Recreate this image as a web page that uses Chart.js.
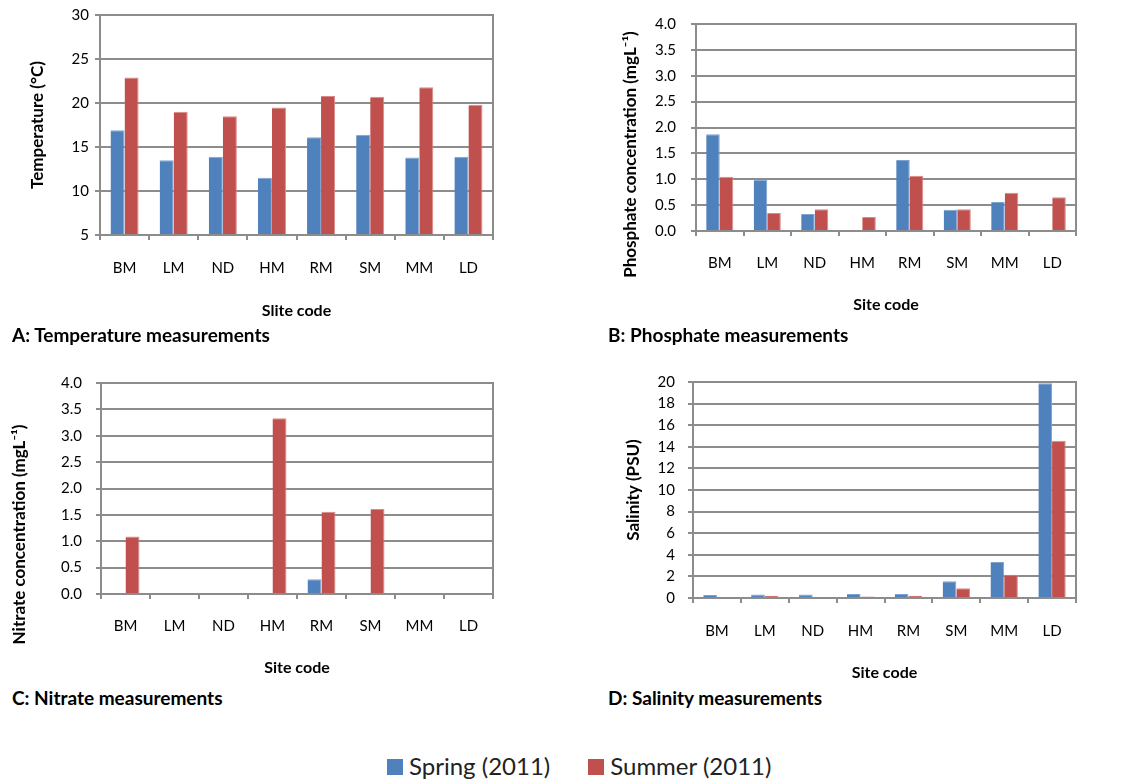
<!DOCTYPE html>
<html>
<head>
<meta charset="utf-8">
<script src="https://cdn.jsdelivr.net/npm/chart.js@4.4.1/dist/chart.umd.min.js"></script>
<style>
  body { margin: 0; background: #fff; font-family: Lato, "Open Sans", sans-serif; }
  .box { position: absolute; }
  .cap { position: absolute; font-weight: bold; font-size: 19px; color: #000; line-height: 22px; }
  #legend { position: absolute; top: 752px; left: 387px; font-size: 24px; line-height: 28px; color: #222; white-space: nowrap; }
  #legend span.sq { display: inline-block; width: 16px; height: 16px; margin-right: 6px; vertical-align: 0px; }
</style>
</head>
<body>
<div class="box" style="left:0px;top:0px;width:510px;height:325px"><canvas id="tempChart"></canvas></div>
<div class="box" style="left:560px;top:0px;width:530px;height:325px"><canvas id="phosChart"></canvas></div>
<div class="box" style="left:0px;top:360px;width:510px;height:325px"><canvas id="nitrChart"></canvas></div>
<div class="box" style="left:560px;top:360px;width:530px;height:325px"><canvas id="salChart"></canvas></div>

<div class="cap" style="left:12px;top:324px">A: Temperature measurements</div>
<div class="cap" style="left:608px;top:324px">B: Phosphate measurements</div>
<div class="cap" style="left:12px;top:687px">C: Nitrate measurements</div>
<div class="cap" style="left:608px;top:687px">D: Salinity measurements</div>

<div id="legend"><span class="sq" style="background:#4F81BD"></span>Spring (2011)<span style="display:inline-block;width:38px"></span><span class="sq" style="background:#C0504D"></span>Summer (2011)</div>

<script>
var sites = ['BM', 'LM', 'ND', 'HM', 'RM', 'SM', 'MM', 'LD'];
var seasons = ['Spring (2011)', 'Summer (2011)'];

var tempSpring = [16.9, 13.5, 13.9, 11.5, 16.1, 16.4, 13.8, 13.9];
var tempSummer = [22.9, 19.0, 18.5, 19.5, 20.8, 20.7, 21.8, 19.8];

var phosSpring = [1.87, 0.99, 0.33, 0, 1.37, 0.41, 0.56, 0];
var phosSummer = [1.05, 0.35, 0.42, 0.27, 1.07, 0.42, 0.74, 0.65];

var nitrSpring = [0, 0, 0, 0, 0.28, 0, 0, 0];
var nitrSummer = [1.09, 0, 0, 3.33, 1.56, 1.61, 0, 0];

var salSpring = [0.27, 0.33, 0.33, 0.36, 0.36, 1.56, 3.33, 19.88];
var salSummer = [0.06, 0.21, 0.09, 0.15, 0.21, 0.9, 2.16, 14.56];

var gridGrey = '#8c8c8c';
var fontFam = 'Lato, "Open Sans", sans-serif';

// outline of the plot area, like the excel frame
var frame = {
  id: 'frame',
  afterDraw: function(chart) {
    var a = chart.chartArea, c = chart.ctx;
    c.save();
    c.strokeStyle = gridGrey;
    c.lineWidth = 2;
    c.strokeRect(a.left, a.top, a.right - a.left, a.bottom - a.top);
    c.restore();
  }
};

// y axis title, excel puts some of them a bit below the middle
var sideTitle = {
  id: 'sideTitle',
  afterDraw: function(chart, args, opts) {
    var a = chart.chartArea, c = chart.ctx;
    c.save();
    c.translate(opts.x, (a.top + a.bottom) / 2 + opts.shift);
    c.rotate(-Math.PI / 2);
    c.textAlign = 'center';
    c.textBaseline = 'middle';
    c.fillStyle = '#000';
    c.font = 'bold 17px ' + fontFam;
    c.fillText(opts.text, 0, 0);
    c.restore();
  }
};

function makeChart(id, o) {
  return new Chart(document.getElementById(id), {
    type: 'bar',
    data: {
      labels: sites,
      datasets: [
        { label: seasons[0], data: o.spring, backgroundColor: '#4F81BD', borderColor: '#7fa3d0', borderWidth: { top: 1, right: 1, left: 0, bottom: 0 } },
        { label: seasons[1], data: o.summer, backgroundColor: '#C0504D', borderColor: '#d98a88', borderWidth: { top: 1, right: 1, left: 0, bottom: 0 } }
      ]
    },
    options: {
      responsive: true,
      maintainAspectRatio: false,
      animation: false,
      layout: { padding: { top: o.top, right: o.right, left: 0, bottom: 0 } },
      plugins: {
        legend: { display: false },
        tooltip: { enabled: false },
        sideTitle: { text: o.yTitle, x: o.yTitleX, shift: o.yTitleShift }
      },
      datasets: { bar: { categoryPercentage: 0.571, barPercentage: 1.0 } },
      scales: {
        x: {
          grid: { drawOnChartArea: false, drawTicks: true, tickLength: 5, color: gridGrey, lineWidth: 2 },
          border: { display: true, color: gridGrey, width: 2 },
          ticks: { color: '#000', font: { family: fontFam, size: 15 }, padding: o.xPad },
          title: { display: true, text: o.xTitle, color: '#000', font: { family: fontFam, size: 16, weight: 'bold' }, padding: { top: 0, bottom: o.xTitlePad } },
          afterFit: function(s) { s.height = o.xHeight; }
        },
        y: {
          min: o.min, max: o.max,
          grid: { color: gridGrey, lineWidth: 2, tickLength: 5 },
          border: { display: true, color: gridGrey, width: 2 },
          ticks: { stepSize: o.step, color: '#000', font: { family: fontFam, size: 15 }, padding: o.yPad,
            callback: function(v) { return o.dec ? v.toFixed(1) : v; } },
          afterFit: function(s) { s.width = o.yWidth; }
        }
      }
    },
    plugins: [frame, sideTitle]
  });
}

makeChart('tempChart', {
  spring: tempSpring, summer: tempSummer, min: 5, max: 30, step: 5, dec: false,
  yTitle: 'Temperature (°C)', xTitle: 'Slite code', yTitleX: 38, yTitleShift: 0,
  top: 14, right: 17, yWidth: 100, xHeight: 90, yPad: 6, xPad: 19, xTitlePad: 5
});

makeChart('phosChart', {
  spring: phosSpring, summer: phosSummer, min: 0, max: 4, step: 0.5, dec: true,
  yTitle: 'Phosphate concentration (mgL⁻¹)', xTitle: 'Site code', yTitleX: 71, yTitleShift: 27,
  top: 15, right: 14, yWidth: 136, xHeight: 94, yPad: 15, xPad: 18, xTitlePad: 11
});

makeChart('nitrChart', {
  spring: nitrSpring, summer: nitrSummer, min: 0, max: 4, step: 0.5, dec: true,
  yTitle: 'Nitrate concentration (mgL⁻¹)', xTitle: 'Site code', yTitleX: 20, yTitleShift: 46,
  top: 17, right: 17, yWidth: 101, xHeight: 91, yPad: 14, xPad: 18, xTitlePad: 8
});

makeChart('salChart', {
  spring: salSpring, summer: salSummer, min: 0, max: 20, step: 2, dec: false,
  yTitle: 'Salinity (PSU)', xTitle: 'Site code', yTitleX: 74, yTitleShift: 0,
  top: 16, right: 14, yWidth: 133, xHeight: 87, yPad: 13, xPad: 19, xTitlePad: 3
});
</script>
</body>
</html>
